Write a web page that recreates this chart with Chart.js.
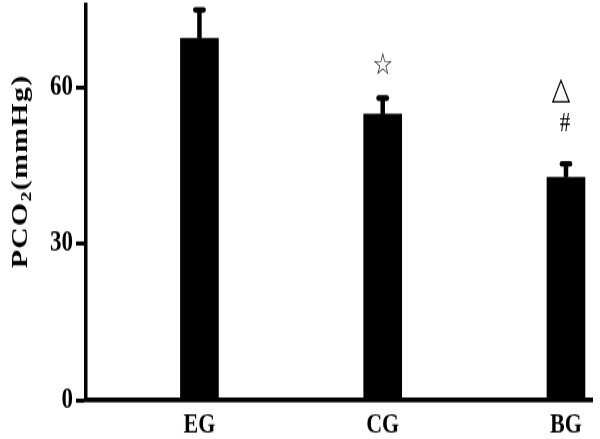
<!DOCTYPE html>
<html>
<head>
<meta charset="utf-8">
<script src="https://cdn.jsdelivr.net/npm/chart.js@4.4.1/dist/chart.umd.min.js"></script>
<style>
  html, body { margin: 0; padding: 0; background: #fff; }
  /* the source figure is stretched vertically, so the canvas is too */
  #pco2 { display: block; width: 600px !important; height: 439px !important; }
</style>
</head>
<body>
<canvas id="pco2" width="600" height="338" style="width:600px;height:439px"></canvas>
<script>
const categories = ['EG', 'CG', 'BG'];
const means = [69.3, 54.8, 42.7];
const errors = [5.5, 3.1, 2.6];
const yTicks = [0, 30, 60];
const marks = [[], ['☆'], ['△', '#']];

const serif = '"Liberation Serif", "Times New Roman", serif';

// error bars with rounded caps + the significance marks above them
const errorBars = {
  id: 'errorBars',
  afterDatasetsDraw(chart) {
    const { ctx, scales: { x, y } } = chart;
    ctx.save();
    ctx.strokeStyle = '#000';
    ctx.fillStyle = '#000';
    means.forEach((m, i) => {
      const px = x.getPixelForValue(i + 1);
      const base = y.getPixelForValue(m);
      const top = y.getPixelForValue(m + errors[i]);

      ctx.lineWidth = 4.5;
      ctx.lineCap = 'butt';
      ctx.beginPath();
      ctx.moveTo(px, base);
      ctx.lineTo(px, top);
      ctx.stroke();

      ctx.lineWidth = 4.4;
      ctx.lineCap = 'round';
      ctx.beginPath();
      ctx.moveTo(px - 4.2, top);
      ctx.lineTo(px + 4.2, top);
      ctx.stroke();

      ctx.textAlign = 'center';
      ctx.textBaseline = 'middle';
      marks[i].forEach((s) => {
        if (s === '☆') {
          ctx.font = '23px "DejaVu Sans"';
          ctx.fillText(s, px, top - 24.5);
        } else if (s === '△') {
          ctx.font = '24px "DejaVu Sans"';
          ctx.fillText(s, px - 5, top - 56.5);
        } else {
          ctx.font = '21px ' + serif;
          ctx.fillText(s, px - 1, top - 31);
        }
      });
    });
    ctx.restore();
  }
};

// rotated y title with a real subscript
const yTitle = {
  id: 'yTitle',
  afterDraw(chart) {
    const ctx = chart.ctx;
    ctx.save();
    ctx.translate(26.5, 132);
    ctx.rotate(-Math.PI / 2);
    ctx.fillStyle = '#000';
    ctx.textBaseline = 'alphabetic';
    ctx.textAlign = 'left';
    ctx.letterSpacing = '1px';
    const big = 'bold 23px ' + serif;
    const small = 'bold 15px ' + serif;
    ctx.font = big;
    const w1 = ctx.measureText('PCO').width;
    const w3 = ctx.measureText('(mmHg)').width;
    ctx.font = small;
    const w2 = ctx.measureText('2').width;
    let xx = -(w1 + w2 + w3) / 2;
    ctx.font = big;
    ctx.fillText('PCO', xx, 0);
    xx += w1;
    ctx.font = small;
    ctx.fillText('2', xx, 4);
    xx += w2;
    ctx.font = big;
    ctx.fillText('(mmHg)', xx, 0);
    ctx.restore();
  }
};

const ctx = document.getElementById('pco2').getContext('2d');

new Chart(ctx, {
  type: 'bar',
  data: {
    datasets: [{
      data: means.map((m, i) => ({ x: i + 1, y: m })),
      backgroundColor: '#000',
      borderWidth: 0,
      barThickness: 38
    }]
  },
  options: {
    responsive: false,
    animation: false,
    devicePixelRatio: 1,
    layout: { padding: { top: 4, right: 8, left: 0, bottom: 0 } },
    plugins: {
      legend: { display: false },
      tooltip: { enabled: false }
    },
    scales: {
      x: {
        type: 'linear',
        position: 'bottom',
        offset: false,
        min: 0.381,
        max: 3.142,
        afterBuildTicks: (scale) => {
          scale.ticks = categories.map((c, i) => ({ value: i + 1 }));
        },
        afterFit: (scale) => {
          scale.height = 30;
          scale.paddingLeft = 0;
          scale.paddingRight = 0;
        },
        grid: { display: false, drawTicks: false, offset: false },
        border: { display: true, color: '#000', width: 3.8 },
        ticks: {
          autoSkip: false,
          maxRotation: 0,
          padding: 6,
          color: '#000',
          font: { family: serif, size: 22, weight: 'bold' },
          callback: (v) => categories[v - 1]
        }
      },
      y: {
        min: 0,
        max: 75.7,
        afterBuildTicks: (scale) => {
          scale.ticks = yTicks.map((v) => ({ value: v }));
        },
        afterFit: (scale) => {
          scale.width = 86;
          scale.paddingTop = 0;
          scale.paddingBottom = 0;
        },
        grid: {
          drawOnChartArea: false,
          drawTicks: true,
          tickLength: 10,
          tickWidth: 3.2,
          tickColor: '#000',
          color: '#000'
        },
        border: { display: true, color: '#000', width: 3.5 },
        ticks: {
          padding: 3,
          color: '#000',
          font: { family: serif, size: 23, weight: 'bold' }
        }
      }
    }
  },
  plugins: [errorBars, yTitle]
});
</script>
</body>
</html>
